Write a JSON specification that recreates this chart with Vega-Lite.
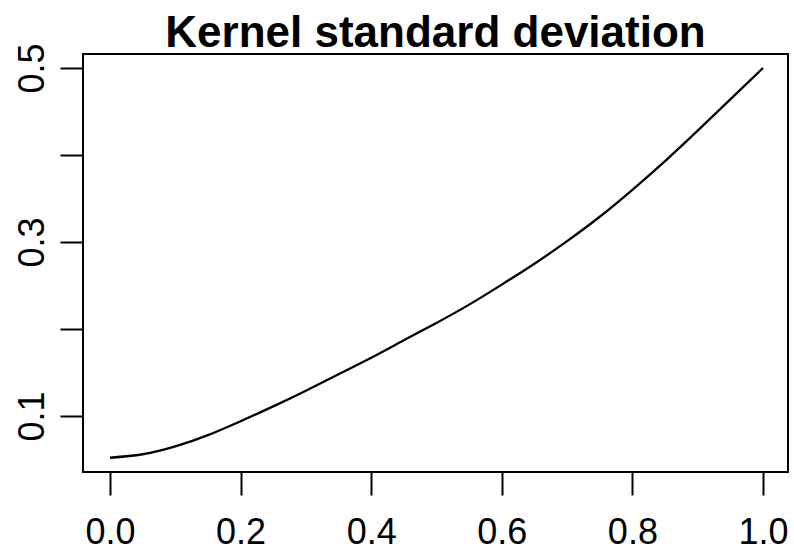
{
  "$schema": "https://vega.github.io/schema/vega-lite/v6.json",
  "width": 705,
  "height": 418,
  "autosize": {"type": "none"},
  "padding": {"left": 83, "top": 54, "right": 6, "bottom": 79},
  "background": "white",
  "title": {
    "text": "Kernel standard deviation",
    "font": "Liberation Sans",
    "fontSize": 44,
    "fontWeight": "bold",
    "color": "black",
    "anchor": "middle",
    "frame": "group",
    "baseline": "alphabetic",
    "offset": -48
  },
  "config": {
    "view": {"stroke": "black", "strokeWidth": 2},
    "axis": {
      "grid": false,
      "domain": false,
      "tickColor": "black",
      "tickWidth": 2,
      "tickSize": 23,
      "labelFont": "Liberation Sans",
      "labelFontSize": 36,
      "labelColor": "black",
      "labelOverlap": false,
      "labelBound": false,
      "labelFlush": false,
      "title": null
    }
  },
  "data": {
    "values": [
      {"x": 0.00, "sd": 0.052},
      {"x": 0.05, "sd": 0.056},
      {"x": 0.10, "sd": 0.065},
      {"x": 0.15, "sd": 0.078},
      {"x": 0.20, "sd": 0.094},
      {"x": 0.25, "sd": 0.111},
      {"x": 0.30, "sd": 0.129},
      {"x": 0.35, "sd": 0.148},
      {"x": 0.40, "sd": 0.167},
      {"x": 0.45, "sd": 0.187},
      {"x": 0.50, "sd": 0.207},
      {"x": 0.55, "sd": 0.228},
      {"x": 0.60, "sd": 0.251},
      {"x": 0.65, "sd": 0.275},
      {"x": 0.70, "sd": 0.301},
      {"x": 0.75, "sd": 0.329},
      {"x": 0.80, "sd": 0.360},
      {"x": 0.85, "sd": 0.393},
      {"x": 0.90, "sd": 0.428},
      {"x": 0.95, "sd": 0.464},
      {"x": 1.00, "sd": 0.500}
    ]
  },
  "mark": {"type": "line", "color": "black", "strokeWidth": 2.3, "interpolate": "natural"},
  "encoding": {
    "x": {
      "field": "x",
      "type": "quantitative",
      "scale": {"domain": [-0.0413, 1.0383], "nice": false, "zero": false},
      "axis": {
        "values": [0, 0.2, 0.4, 0.6, 0.8, 1.0],
        "format": ".1f",
        "labelBaseline": "alphabetic",
        "labelPadding": 48
      }
    },
    "y": {
      "field": "sd",
      "type": "quantitative",
      "scale": {"domain": [0.0356, 0.5161], "nice": false, "zero": false},
      "axis": {
        "values": [0.1, 0.2, 0.3, 0.4, 0.5],
        "labelExpr": "indexof(['0.1','0.3','0.5'], format(datum.value, '.1f')) >= 0 ? format(datum.value, '.1f') : ''",
        "labelAngle": -90,
        "labelAlign": "center",
        "labelBaseline": "alphabetic",
        "labelPadding": 17
      }
    }
  }
}
